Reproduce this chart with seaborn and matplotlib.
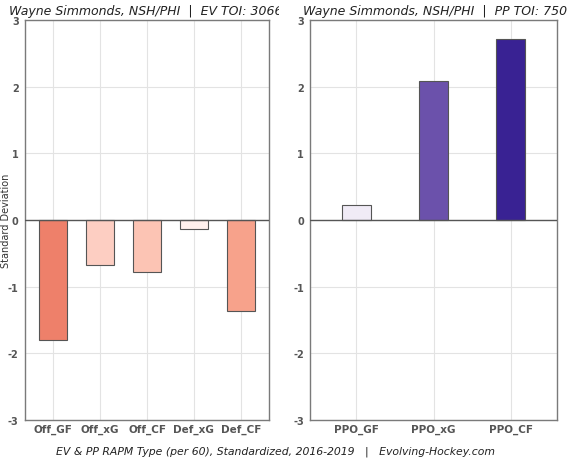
import seaborn as sns
import matplotlib.pyplot as plt
import matplotlib.transforms as mtransforms
import pandas as pd

# Datos (RAPM estandarizado)
ev_cats = ["Off_GF", "Off_xG", "Off_CF", "Def_xG", "Def_CF"]
ev_vals = [-1.80, -0.68, -0.78, -0.14, -1.37]
pp_cats = ["PPO_GF", "PPO_xG", "PPO_CF"]
pp_vals = [0.22, 2.08, 2.71]
y_ticks = [-3, -2, -1, 0, 1, 2, 3]

ev_colors = ["#ee806a", "#fdcec2", "#fcc4b4", "#fff0ed", "#f7a28b"]
pp_colors = ["#f0ebf6", "#6b51ab", "#392293"]

sns.set_theme(style="whitegrid")
plt.rcParams["font.family"] = ["DejaVu Sans"]

fig = plt.figure(figsize=(5.75, 4.64), dpi=100)
ax1 = fig.add_axes([25 / 575, 1 - 421 / 464, 244 / 575, 400 / 464])
ax2 = fig.add_axes([310 / 575, 1 - 421 / 464, 247 / 575, 400 / 464])

ev = pd.DataFrame({"cat": ev_cats, "val": ev_vals})
pp = pd.DataFrame({"cat": pp_cats, "val": pp_vals})


def draw_panel(ax, df, colors, width, ylabel):
    sns.barplot(data=df, x="cat", y="val", hue="cat", order=list(df["cat"]),
                palette=dict(zip(df["cat"], colors)), width=width, legend=False,
                saturation=1, edgecolor="#555555", linewidth=0.8, ax=ax, zorder=3)
    ax.set_xlim(-0.6, len(df) - 0.4)
    ax.set_ylim(-3, 3)
    ax.set_yticks(y_ticks)
    ax.set_yticklabels([str(t) for t in y_ticks])
    ax.axhline(0, color="#555555", lw=1.0, zorder=4)
    ax.grid(True, color="#e3e3e3", lw=0.8)
    ax.set_axisbelow(True)
    for s in ax.spines.values():
        s.set_color("#7a7a7a")
        s.set_linewidth(1.0)
    ax.tick_params(axis="both", labelsize=7, colors="#555555", length=2.5,
                   width=0.8, pad=2)
    ax.tick_params(axis="x", labelsize=7.5, length=0, pad=3)
    for lab in ax.get_xticklabels() + ax.get_yticklabels():
        lab.set_fontweight("bold")
    ax.set_xlabel("")
    ax.set_ylabel(ylabel, fontsize=7, color="#333333")
    ax.yaxis.set_label_coords(-14 / 244, 0.5)


draw_panel(ax1, ev, ev_colors, 0.6, "Standard Deviation")
draw_panel(ax2, pp, pp_colors, 0.38, "")

# Títulos (el de la izquierda queda recortado como en el original)
t1 = fig.text(9 / 575, 1 - 11 / 464, "Wayne Simmonds, NSH/PHI  |  EV TOI: 3066",
              fontsize=9, style="italic", color="#222222", va="center", ha="left")
t1.set_clip_box(mtransforms.Bbox.from_extents(0, 0, 279, 464))
t1.set_clip_on(True)
fig.text(303 / 575, 1 - 11 / 464, "Wayne Simmonds, NSH/PHI  |  PP TOI: 750",
         fontsize=9, style="italic", color="#222222", va="center", ha="left")

fig.text(275 / 575, 1 - 452 / 464,
         "EV & PP RAPM Type (per 60), Standardized, 2016-2019   |   Evolving-Hockey.com",
         fontsize=7.8, style="italic", color="#222222", ha="center", va="center")

fig.savefig("out.png", dpi=100)
